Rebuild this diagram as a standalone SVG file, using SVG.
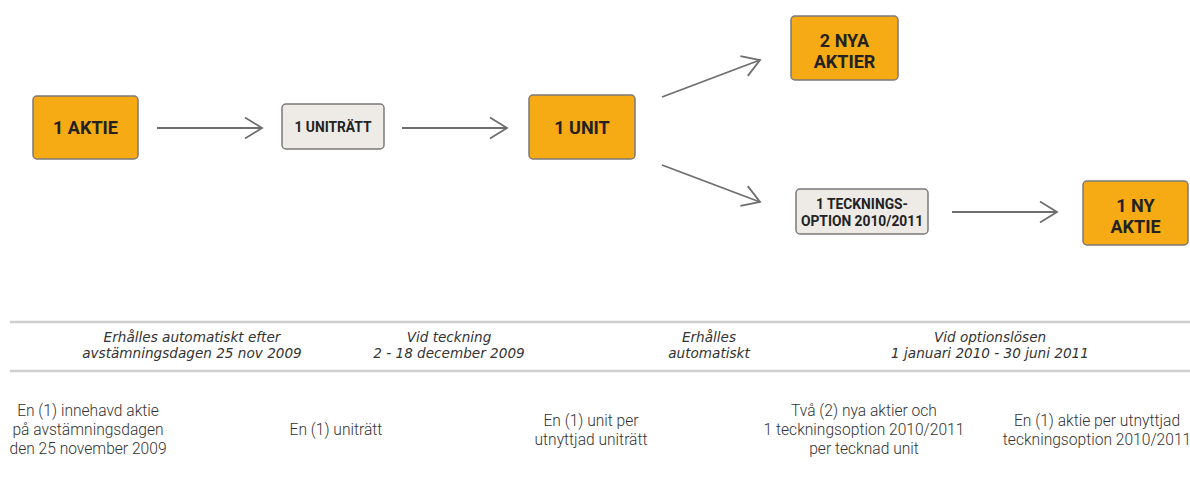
<svg xmlns="http://www.w3.org/2000/svg" width="1190" height="482" viewBox="0 0 1190 482">
  <defs>
    <marker id="chev" markerUnits="userSpaceOnUse" markerWidth="30" markerHeight="30" viewBox="-25 -15 30 30" refX="0" refY="0" orient="auto">
      <path d="M-17,-10.5 L0,0 L-17,10.5" fill="none" stroke="#6e6e6e" stroke-width="1.8"/>
    </marker>
  </defs>
  <style>
    .orange { fill: #f6aa13; stroke: #7a7a7a; stroke-width: 1.5; }
    .grey { fill: #eeebe6; stroke: #7a7a7a; stroke-width: 1.5; }
    .lbl { font-family: Roboto, "Liberation Sans", sans-serif; font-weight: 700; fill: #222222; text-anchor: middle; }
    .big { font-size: 18px; }
    .small { font-size: 13.8px; }
    .conn { fill: none; stroke: #6e6e6e; stroke-width: 1.8; marker-end: url(#chev); }
    .rule { stroke: #cfcfcf; stroke-width: 2.5; }
    .ital { font-family: "DejaVu Sans", Verdana, sans-serif; font-style: italic; font-size: 13.6px; fill: #333333; text-anchor: middle; }
    .desc { font-family: Roboto, "Liberation Sans", sans-serif; font-weight: 300; font-size: 15.6px; fill: #333333; text-anchor: middle; }
  </style>
  <rect width="1190" height="482" fill="#ffffff"/>

  <g id="connectors">
    <line class="conn" x1="157" y1="128" x2="262" y2="128"/>
    <line class="conn" x1="402" y1="128" x2="507" y2="128"/>
    <line class="conn" x1="662" y1="97" x2="760" y2="60"/>
    <line class="conn" x1="662" y1="165" x2="760" y2="202"/>
    <line class="conn" x1="952" y1="212" x2="1057" y2="212"/>
  </g>

  <g id="node-1-aktie">
    <rect class="orange" x="33" y="96" width="105" height="63" rx="4"/>
    <text class="lbl big" x="85.5" y="134">1 AKTIE</text>
  </g>
  <g id="node-1-unitratt">
    <rect class="grey" x="282" y="104" width="102" height="45" rx="4"/>
    <text class="lbl small" x="333" y="132">1 UNITRÄTT</text>
  </g>
  <g id="node-1-unit">
    <rect class="orange" x="529" y="95" width="106" height="64" rx="4"/>
    <text class="lbl big" x="582" y="134">1 UNIT</text>
  </g>
  <g id="node-2-nya-aktier">
    <rect class="orange" x="791" y="16" width="107" height="64" rx="4"/>
    <text class="lbl big" x="844.5" y="47">2 NYA</text>
    <text class="lbl big" x="844.5" y="68">AKTIER</text>
  </g>
  <g id="node-teckningsoption">
    <rect class="grey" x="796" y="189" width="132" height="45" rx="4"/>
    <text class="lbl small" x="862" y="209">1 TECKNINGS-</text>
    <text class="lbl small" x="862" y="226">OPTION 2010/2011</text>
  </g>
  <g id="node-1-ny-aktie">
    <rect class="orange" x="1083" y="181" width="105" height="64" rx="4"/>
    <text class="lbl big" x="1135.5" y="212">1 NY</text>
    <text class="lbl big" x="1135.5" y="233">AKTIE</text>
  </g>

  <g id="timeline">
    <line class="rule" x1="10" y1="322" x2="1190" y2="322"/>
    <line class="rule" x1="10" y1="371" x2="1190" y2="371"/>
    <text class="ital" x="192" y="342">Erhålles automatiskt efter</text>
    <text class="ital" x="192" y="358">avstämningsdagen 25 nov 2009</text>
    <text class="ital" x="449" y="342">Vid teckning</text>
    <text class="ital" x="449" y="358">2 - 18 december 2009</text>
    <text class="ital" x="709" y="342">Erhålles</text>
    <text class="ital" x="709" y="358">automatiskt</text>
    <text class="ital" x="990" y="342">Vid optionslösen</text>
    <text class="ital" x="990" y="358">1 januari 2010 - 30 juni 2011</text>
  </g>

  <g id="descriptions">
    <text class="desc" x="88" y="416">En (1) innehavd aktie</text>
    <text class="desc" x="88" y="435">på avstämningsdagen</text>
    <text class="desc" x="88" y="454">den 25 november 2009</text>
    <text class="desc" x="336" y="435">En (1) uniträtt</text>
    <text class="desc" x="591" y="426">En (1) unit per</text>
    <text class="desc" x="591" y="445">utnyttjad uniträtt</text>
    <text class="desc" x="864" y="416">Två (2) nya aktier och</text>
    <text class="desc" x="864" y="435">1 teckningsoption 2010/2011</text>
    <text class="desc" x="864" y="454">per tecknad unit</text>
    <text class="desc" x="1097" y="426">En (1) aktie per utnyttjad</text>
    <text class="desc" x="1097" y="445">teckningsoption 2010/2011</text>
  </g>
</svg>
